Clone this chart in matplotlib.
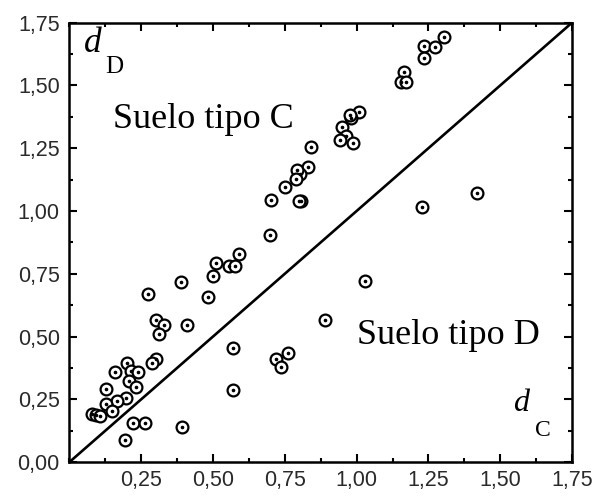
import numpy as np
import matplotlib.pyplot as plt
from matplotlib.ticker import MultipleLocator, FuncFormatter

# distancias medidas en suelo C (x) y suelo D (y)
d_C = [1.306, 1.234, 1.274, 1.236, 1.164, 1.155, 1.171, 1.008, 0.981, 0.977,
       0.948, 0.962, 0.941, 0.989, 0.841, 0.829, 0.803, 0.808, 1.420, 1.229,
       0.794, 0.790, 0.752, 0.801, 0.703, 0.700, 0.591, 0.509, 0.557, 0.577,
       0.499, 0.484, 1.030, 0.890, 0.272, 0.387, 0.300, 0.328, 0.312, 0.409,
       0.301, 0.287, 0.571, 0.571, 0.159, 0.201, 0.215, 0.240, 0.208, 0.232,
       0.128, 0.196, 0.167, 0.126, 0.149, 0.079, 0.091, 0.106, 0.222, 0.263,
       0.391, 0.194, 0.760, 0.718, 0.736]
d_D = [1.694, 1.659, 1.655, 1.608, 1.553, 1.515, 1.514, 1.393, 1.370, 1.384,
       1.334, 1.297, 1.284, 1.270, 1.254, 1.175, 1.146, 1.039, 1.071, 1.016,
       1.164, 1.128, 1.095, 1.038, 1.045, 0.906, 0.830, 0.793, 0.781, 0.780,
       0.741, 0.658, 0.721, 0.565, 0.671, 0.716, 0.565, 0.545, 0.508, 0.544,
       0.412, 0.393, 0.456, 0.286, 0.358, 0.393, 0.362, 0.359, 0.323, 0.300,
       0.292, 0.256, 0.243, 0.231, 0.203, 0.191, 0.187, 0.183, 0.156, 0.156,
       0.138, 0.086, 0.436, 0.410, 0.377]

lim = 1.75

fig = plt.figure(figsize=(5.95, 4.99), dpi=100)
ax = fig.add_axes([0.1168, 0.0741, 0.8445, 0.8804])

ax.plot([0, lim], [0, lim], color='black', lw=1.9, zorder=2)
ax.plot(d_C, d_D, 'o', ms=8.5, mfc='white', mec='black', mew=1.6, zorder=3)
ax.plot(d_C, d_D, 'o', ms=1.6, color='black', zorder=4)

ax.set_xlim(0, lim)
ax.set_ylim(0, lim)

coma = FuncFormatter(lambda v, p: ('%.2f' % v).replace('.', ','))
ax.xaxis.set_major_locator(MultipleLocator(0.25))
ax.yaxis.set_major_locator(MultipleLocator(0.25))
ax.xaxis.set_minor_locator(MultipleLocator(0.125))
ax.yaxis.set_minor_locator(MultipleLocator(0.125))
ax.xaxis.set_major_formatter(coma)
ax.yaxis.set_major_formatter(coma)
ax.set_xticks(np.arange(0.25, 1.76, 0.25))

ax.tick_params(which='both', direction='in', top=True, right=True, width=1.5)
ax.tick_params(which='major', length=6, labelsize=15.5)
ax.tick_params(axis='x', which='major', pad=6)
ax.tick_params(axis='y', which='major', pad=7)
ax.tick_params(which='minor', length=3)
for lab in ax.get_xticklabels() + ax.get_yticklabels():
    lab.set_family('Liberation Sans')
    lab.set_color('#2a2a2a')
for s in ax.spines.values():
    s.set_linewidth(1.8)

serif = 'Liberation Serif'
ax.text(0.15, 1.329, 'Suelo tipo C', family=serif, fontsize=26, va='baseline')
ax.text(1.0, 0.472, 'Suelo tipo D', family=serif, fontsize=26, va='baseline')

# etiquetas de ejes: d en cursiva con subindice bajo la linea base
ax.text(0.05, 1.634, 'd', family=serif, style='italic', fontsize=25.5,
        va='baseline')
ax.text(0.124, 1.548, 'D', family=serif, fontsize=18, va='baseline')
ax.text(1.545, 0.205, 'd', family=serif, style='italic', fontsize=23,
        va='baseline')
ax.text(1.622, 0.105, 'C', family=serif, fontsize=17, va='baseline')

fig.savefig('out.png', dpi=100)
